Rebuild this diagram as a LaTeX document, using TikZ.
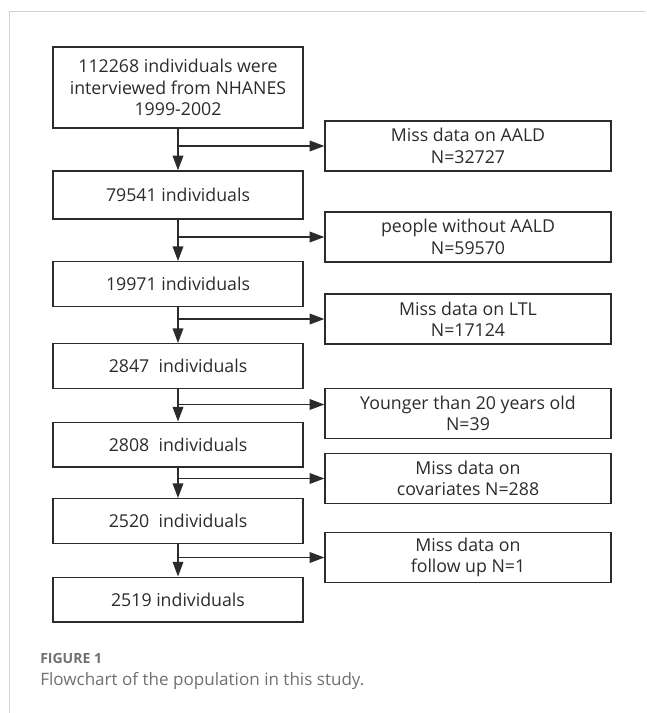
\documentclass[tikz,border=0pt]{standalone}
\usepackage{fontspec}
\setmainfont{Open Sans}
\usetikzlibrary{arrows.meta}
\definecolor{inkdark}{HTML}{2B2B2B}
\definecolor{captiongray}{HTML}{707070}
\definecolor{framegray}{HTML}{D2D2D2}

\begin{document}
\begin{tikzpicture}[
  x=0.75pt,
  y=-0.75pt,
  stage/.style={
    draw=inkdark,
    line width=1pt,
    minimum width=187.5pt,
    minimum height=33.5pt,
    inner sep=0pt,
    align=center,
    text=inkdark,
    font=\fontsize{13.3}{16.1}\selectfont
  },
  excluded/.style={stage, minimum width=214.5pt, minimum height=37.5pt},
  flow/.style={-{Triangle[length=11pt,width=8pt]}, line width=1pt, color=inkdark},
  caption/.style={anchor=base west, inner sep=0pt, text=captiongray}
]
  \useasboundingbox (0,0) rectangle (646,713);
  \draw[framegray, line width=0.8pt] (9.3,713) -- (9.3,11.3) -- (646,11.3);

  % left column
  \node[stage, minimum height=60.75pt] (main1) at (178,87.5)
    {112268 individuals were\\interviewed from NHANES\\1999-2002};
  \node[stage, minimum height=36pt] (main2) at (178,195) {79541 individuals};
  \node[stage] (main3) at (178,284) {19971 individuals};
  \node[stage] (main4) at (178,366) {2847\ \ individuals};
  \node[stage] (main5) at (178,444.5) {2808\ \ individuals};
  \node[stage] (main6) at (178,521) {2520\ \ individuals};
  \node[stage] (main7) at (178,599.5) {2519 individuals};

  % right column
  \node[excluded] (exc1) at (468,146) {Miss data on AALD\\N=32727};
  \node[excluded] (exc2) at (468,237) {people without AALD\\N=59570};
  \node[excluded] (exc3) at (468,319) {Miss data on LTL\\N=17124};
  \node[excluded] (exc4) at (468,413.5) {Younger than 20 years old\\N=39};
  \node[excluded] (exc5) at (468,478.5) {Miss data on\\covariates N=288};
  \node[excluded] (exc6) at (468,557.5) {Miss data on\\follow up N=1};
  \coordinate (exc4in) at ([yshift=6.75pt]exc4.west);

  \foreach \a/\b in {main1/main2,main2/main3,main3/main4,main4/main5,main5/main6,main6/main7}
    \draw[flow] (\a) -- (\b);
  \foreach \a/\b in {main1/exc1,main2/exc2,main3/exc3,main5/exc5,main6/exc6}
    \draw[flow] (\a.south |- \b.west) -- (\b.west);
  \draw[flow] (main4.south |- exc4in) -- (exc4in);

  \node[caption, font=\fontsize{10.5}{12}\selectfont\bfseries] (figno) at (40,663) {FIGURE 1};
  \node[caption, font=\fontsize{12.8}{15}\selectfont] (figtext) at (40,685)
    {Flowchart of the population in this study.};
\end{tikzpicture}
\end{document}
